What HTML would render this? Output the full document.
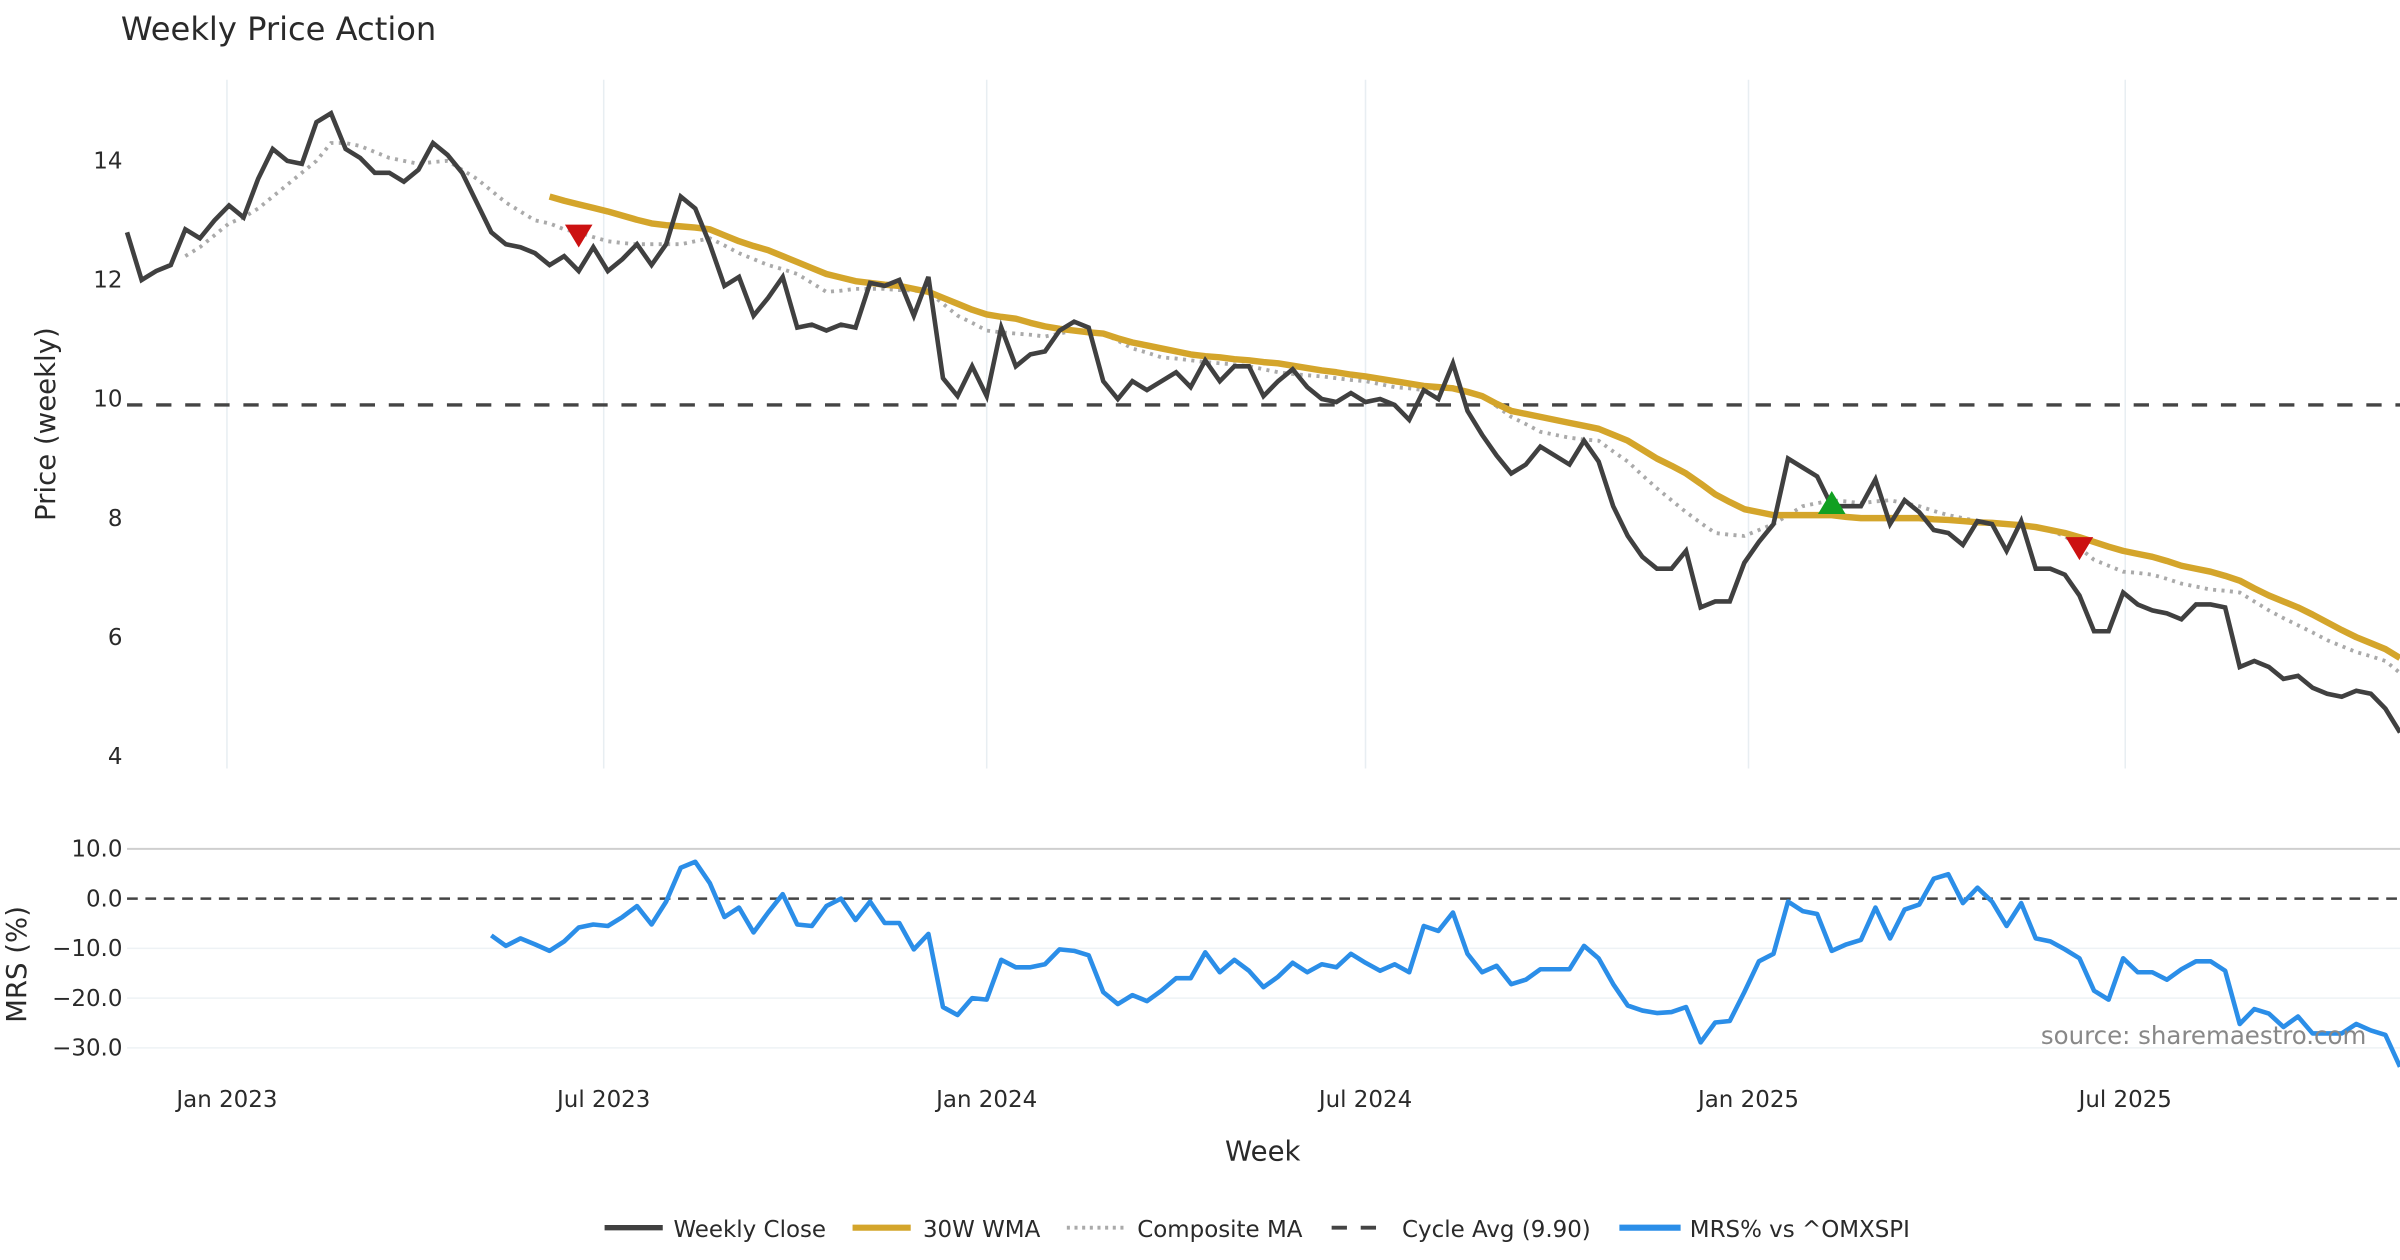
<!DOCTYPE html>
<html><head><meta charset="utf-8"><style>
html,body{margin:0;padding:0;background:#fff;}
svg{display:block;font-family:"DejaVu Sans","Liberation Sans",sans-serif;}
</style></head><body>
<svg id="chart" width="2400" height="1260" viewBox="0 0 1568 823" xmlns="http://www.w3.org/2000/svg">
<rect width="1568" height="823" fill="#fff"/>
<text x="79" y="26" font-size="21" fill="#2a2a2a">Weekly Price Action</text>
<g id="grid"></g>
<g id="series"></g>
<g id="axes"></g>
<text transform="translate(36,277) rotate(-90)" text-anchor="middle" font-size="18" fill="#2a2a2a">Price (weekly)</text>
<text transform="translate(17,630) rotate(-90)" text-anchor="middle" font-size="18" fill="#2a2a2a">MRS (%)</text>
<text x="825" y="758" text-anchor="middle" font-size="18" fill="#2a2a2a">Week</text>
<text x="1546" y="682" text-anchor="end" font-size="16" fill="#888">source: sharemaestro.com</text>
<g id="legend">
 <g><line x1="395" y1="802" x2="433" y2="802" stroke="#404040" stroke-width="3.5"/><text x="440" y="808" font-size="15" fill="#2a2a2a">Weekly Close</text></g>
 <g><line x1="557" y1="802" x2="595" y2="802" stroke="#d4a52b" stroke-width="4"/><text x="603" y="808" font-size="15" fill="#2a2a2a">30W WMA</text></g>
 <g><line x1="697" y1="802" x2="735" y2="802" stroke="#aaa" stroke-width="2.5" stroke-dasharray="2,3"/><text x="743" y="808" font-size="15" fill="#2a2a2a">Composite MA</text></g>
 <g><line x1="870" y1="802" x2="908" y2="802" stroke="#444" stroke-width="2.5" stroke-dasharray="10,9"/><text x="916" y="808" font-size="15" fill="#2a2a2a">Cycle Avg (9.90)</text></g>
 <g><line x1="1058" y1="802" x2="1098" y2="802" stroke="#2b8ee8" stroke-width="4"/><text x="1104" y="808" font-size="15" fill="#2a2a2a">MRS% vs ^OMXSPI</text></g>
</g>
</svg>
<script>
const startDate = "2022-11-14";
const closes = [12.8,12.0,12.15,12.25,12.85,12.7,13.0,13.25,13.05,13.7,
14.2,14.0,13.95,14.65,14.8,14.2,14.05,13.8,13.8,13.65,
13.85,14.3,14.1,13.8,13.3,12.8,12.6,12.55,12.45,12.25,
12.4,12.15,12.55,12.15,12.35,12.6,12.25,12.6,13.4,13.2,
12.6,11.9,12.05,11.4,11.7,12.05,11.2,11.25,11.15,11.25,
11.2,11.95,11.9,12.0,11.4,12.05,10.35,10.05,10.55,10.05,
11.2,10.55,10.75,10.8,11.15,11.3,11.2,10.3,10.0,10.3,
10.15,10.3,10.45,10.2,10.65,10.3,10.55,10.55,10.05,10.3,
10.5,10.2,10.0,9.95,10.1,9.95,10.0,9.9,9.65,10.15,
10.0,10.6,9.8,9.4,9.05,8.75,8.9,9.2,9.05,8.9,
9.3,8.95,8.2,7.7,7.35,7.15,7.15,7.45,6.5,6.6,
6.6,7.25,7.6,7.9,9.0,8.85,8.7,8.2,8.2,8.2,
8.65,7.9,8.3,8.1,7.8,7.75,7.55,7.95,7.9,7.45,
7.95,7.15,7.15,7.05,6.7,6.1,6.1,6.75,6.55,6.45,
6.4,6.3,6.55,6.55,6.5,5.5,5.6,5.5,5.3,5.35,
5.15,5.05,5.0,5.1,5.05,4.8,4.4];
const wma = [13.4,13.33,13.27,13.21,13.15,13.08,13.01,12.95,12.92,12.9,12.88,12.85,12.75,12.65,12.57,12.5,12.4,12.3,12.2,12.1,12.04,11.98,11.95,11.92,11.9,11.85,11.8,11.7,11.6,11.5,11.42,11.38,11.35,11.28,11.22,11.18,11.15,11.12,11.1,11.02,10.95,10.9,10.85,10.8,10.75,10.72,10.7,10.67,10.65,10.62,10.6,10.56,10.52,10.48,10.45,10.41,10.38,10.34,10.3,10.26,10.22,10.2,10.18,10.12,10.05,9.92,9.8,9.75,9.7,9.65,9.6,9.55,9.5,9.4,9.3,9.15,9.0,8.88,8.75,8.58,8.4,8.27,8.15,8.1,8.05,8.05,8.05,8.05,8.05,8.02,8.0,8.0,8.0,8.0,8.0,7.98,7.97,7.95,7.93,7.92,7.9,7.88,7.85,7.8,7.75,7.68,7.6,7.52,7.45,7.4,7.35,7.28,7.2,7.15,7.1,7.03,6.95,6.82,6.7,6.6,6.5,6.38,6.25,6.12,6.0,5.9,5.8,5.65];
const composite = [12.4,12.55,12.75,12.95,13.05,13.2,13.4,13.6,13.8,14.0,14.3,14.3,14.25,14.15,14.05,14.0,13.95,13.98,14.0,13.85,13.7,13.5,13.3,13.15,13.0,12.95,12.85,12.8,12.72,12.65,12.62,12.6,12.6,12.6,12.6,12.65,12.7,12.58,12.45,12.35,12.25,12.18,12.1,11.95,11.8,11.82,11.85,11.85,11.85,11.83,11.82,11.8,11.6,11.4,11.28,11.15,11.12,11.1,11.08,11.05,11.1,11.15,11.12,11.1,10.98,10.85,10.78,10.7,10.68,10.65,10.62,10.6,10.58,10.55,10.5,10.45,10.42,10.4,10.38,10.35,10.32,10.3,10.25,10.2,10.18,10.15,10.18,10.2,10.12,10.05,9.88,9.7,9.58,9.45,9.4,9.35,9.32,9.3,9.12,8.95,8.72,8.5,8.3,8.1,7.92,7.75,7.72,7.7,7.8,7.9,8.05,8.2,8.25,8.3,8.28,8.25,8.28,8.3,8.25,8.2,8.12,8.05,8.0,7.95,7.92,7.9,7.88,7.85,7.78,7.7,7.5,7.3,7.2,7.1,7.08,7.05,6.98,6.9,6.85,6.8,6.78,6.75,6.6,6.45,6.32,6.2,6.08,5.95,5.85,5.75,5.68,5.6,5.4];
const mrs = [-7.4,-9.5,-8,-9.2,-10.5,-8.6,-5.8,-5.2,-5.5,-3.7,
-1.5,-5.2,-0.6,6.2,7.4,3.1,-3.7,-1.8,-6.8,-2.8,
0.9,-5.2,-5.5,-1.5,0,-4.3,-0.6,-4.9,-4.9,-10.2,
-7.1,-21.8,-23.4,-20,-20.3,-12.3,-13.8,-13.8,-13.2,-10.2,
-10.5,-11.4,-18.8,-21.2,-19.4,-20.6,-18.5,-16,-16,-10.8,
-14.8,-12.3,-14.5,-17.8,-15.7,-12.9,-14.8,-13.2,-13.8,-11.1,
-12.9,-14.5,-13.2,-14.8,-5.5,-6.5,-2.8,-11.1,-14.8,-13.5,
-17.2,-16.3,-14.2,-14.2,-14.2,-9.5,-12,-17.2,-21.5,-22.5,
-23,-22.8,-21.8,-28.9,-24.9,-24.6,-18.8,-12.6,-11.1,-0.6,
-2.5,-3.1,-10.5,-9.2,-8.3,-1.8,-8,-2.2,-1.2,4,
4.9,-0.9,2.2,-0.6,-5.5,-0.9,-8,-8.6,-10.2,-12,
-18.5,-20.3,-12,-14.8,-14.8,-16.3,-14.2,-12.6,-12.6,-14.5,
-25.2,-22.2,-23.1,-25.8,-23.7,-27.1,-27.1,-27.1,-25.2,-26.5,
-27.4,-33.8];
const cycleAvg = 9.9;
const sellIdx = [31, 134];
const sellVal = [12.75, 7.5];
const buyIdx = [117];
const buyVal = [8.25];
const priceTicks = [4, 6, 8, 10, 12, 14];
const mrsTicks = [10, 0, -10, -20, -30];
const dateTicks = ["2023-01-01","2023-07-01","2024-01-01","2024-07-01","2025-01-01","2025-07-01"];
const dateLabels = ["Jan 2023","Jul 2023","Jan 2024","Jul 2024","Jan 2025","Jul 2025"];

const NS = "http://www.w3.org/2000/svg";
const X0 = 83, X1 = 1568;
const n = closes.length;
const step = (X1 - X0) / (n - 1);
function xi(i){ return X0 + i * step; }
function xd(d){ const days = (new Date(d) - new Date(startDate)) / 86400000; return X0 + days / 7 * step; }
function yp(v){ return 105 + (14 - v) * 38.9; }
function ym(v){ return 587 - v * 3.25; }
function mk(tag, attrs, parent){ const e = document.createElementNS(NS, tag); for (const k in attrs) e.setAttribute(k, attrs[k]); parent.appendChild(e); return e; }
const grid = document.getElementById('grid'), ser = document.getElementById('series'), axes = document.getElementById('axes');

dateTicks.forEach((d, k) => {
  const x = xd(d);
  const g = mk('line', {x1:x, y1:52, x2:x, y2:502, stroke:'#e8eef2', 'stroke-width':1}, grid);
  
  
  const t = mk('text', {x:x, y:723, 'text-anchor':'middle', 'font-size':15, fill:'#2a2a2a'}, axes);
  t.textContent = dateLabels[k];
  
  
});
priceTicks.forEach(v => {
  const t = mk('text', {x:80, y:yp(v)+5, 'text-anchor':'end', 'font-size':15, fill:'#2a2a2a'}, axes);
  t.textContent = v;
  
  
});
mrsTicks.forEach(v => {
  if (v !== 0) {
    const l = mk('line', {x1:83, y1:ym(v), x2:1568, y2:ym(v), stroke: v === 10 ? '#cfcfcf' : '#eef2f5', 'stroke-width': v === 10 ? 1.3 : 1}, grid);
    
    
  }
  const t = mk('text', {x:80, y:ym(v)+5, 'text-anchor':'end', 'font-size':15, fill:'#2a2a2a'}, axes);
  t.textContent = (v < 0 ? '\u2212' + Math.abs(v).toFixed(1) : v.toFixed(1));
  
  
});

const cyc = mk('line', {x1:83, y1:yp(cycleAvg), x2:1568, y2:yp(cycleAvg), stroke:'#444', 'stroke-width':2.2, 'stroke-dasharray':'10,9'}, ser);


const zero = mk('line', {x1:83, y1:ym(0), x2:1568, y2:ym(0), stroke:'#444', 'stroke-width':1.6, 'stroke-dasharray':'7,5'}, ser);



function path(arr, yf){ const s = n - arr.length; return arr.map((v, k) => (k ? 'L' : 'M') + xi(s + k).toFixed(2) + ',' + yf(v).toFixed(2)).join(''); }
const pc = mk('path', {d:path(composite, yp), fill:'none', stroke:'#aaa', 'stroke-width':2.5, 'stroke-dasharray':'2,3.5'}, ser);


const pw = mk('path', {d:path(wma, yp), fill:'none', stroke:'#d4a52b', 'stroke-width':4.2, 'stroke-linejoin':'round'}, ser);


const pcl = mk('path', {d:path(closes, yp), fill:'none', stroke:'#404040', 'stroke-width':3, 'stroke-linejoin':'miter'}, ser);


const pm = mk('path', {d:path(mrs, ym), fill:'none', stroke:'#2b8ee8', 'stroke-width':3, 'stroke-linejoin':'round'}, ser);



sellIdx.forEach((i, k) => {
  const x = xi(i), y = yp(sellVal[k]);
  const t = mk('polygon', {points:`${x-9},${y-7} ${x+9},${y-7} ${x},${y+8}`, fill:'#cc1111'}, ser);
  
  
});
buyIdx.forEach((i, k) => {
  const x = xi(i), y = yp(buyVal[k]);
  const t = mk('polygon', {points:`${x-9},${y+7} ${x+9},${y+7} ${x},${y-8}`, fill:'#11a022'}, ser);
  
  
});
</script>
</body></html>
